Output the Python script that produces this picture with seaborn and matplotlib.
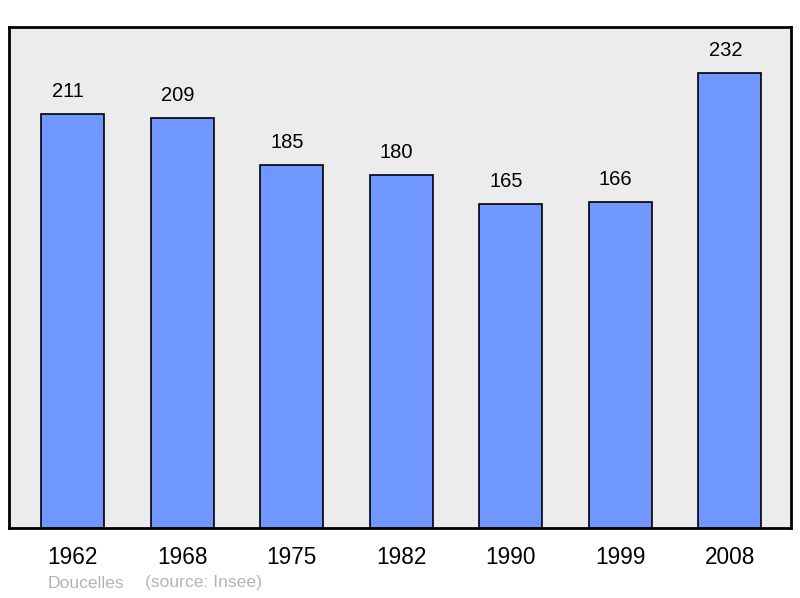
import matplotlib
matplotlib.use("Agg")
import matplotlib.pyplot as plt
import seaborn as sns
import pandas as pd

# --- données ---
annees = ["1962", "1968", "1975", "1982", "1990", "1999", "2008"]
population = [211, 209, 185, 180, 165, 166, 232]
commune = "Doucelles"
source = "(source: Insee)"

df = pd.DataFrame({"annee": annees, "pop": population})

sns.set_theme(style="white")
plt.rcParams['font.family'] = ['Liberation Sans', 'DejaVu Sans']

fig = plt.figure(figsize=(8, 5.98), dpi=100)
ax = fig.add_axes([0.01125, 0.117, 0.9775, 0.8378])
ax.set_facecolor("#ececec")

sns.barplot(data=df, x="annee", y="pop", color="#7097ff", saturation=1,
            width=0.575, edgecolor="black", linewidth=1.2, ax=ax)

# valeurs au-dessus des barres (légèrement décalées à gauche comme l'original)
for i, v in enumerate(population):
    ax.text(i - 0.04, v + 6.5, str(v), ha="center", va="bottom", fontsize=14.5, color="black")

ax.set_xlim(-0.58, 6.56)
ax.set_ylim(0, 232 * 1.1)
ax.set_yticks([])
ax.set_xlabel(""); ax.set_ylabel("")
ax.tick_params(axis="x", length=0, labelsize=16.3, pad=13, colors="black")
for s in ax.spines.values():
    s.set_color("black")
    s.set_linewidth(2)

fig.text(48 / 800, 1 - 583 / 598, commune, fontsize=12.6, color="#b4b4b4", va="center")
fig.text(145 / 800, 1 - 583 / 598, source, fontsize=12.6, color="#b4b4b4", va="center")

fig.savefig("out.png", dpi=100, facecolor="white")
